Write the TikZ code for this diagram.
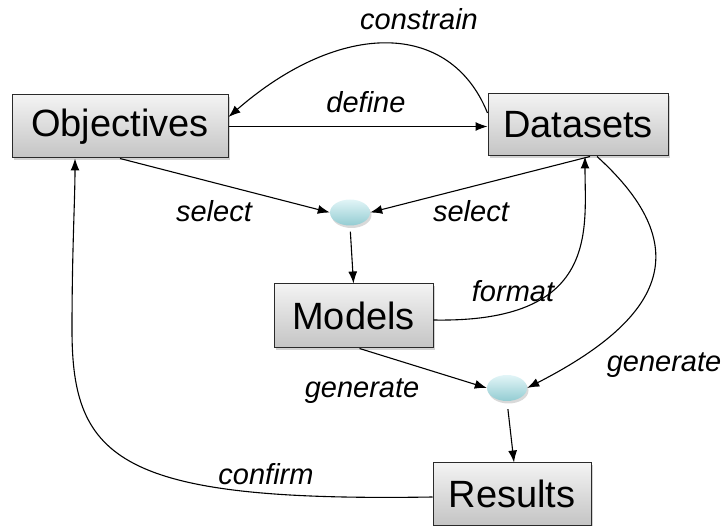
\documentclass[tikz,border=0pt]{standalone}
\usepackage{fontspec}
\setmainfont{Liberation Sans}
\usetikzlibrary{arrows.meta,shadows,shapes.geometric}
\definecolor{boxtop}{HTML}{F3F3F3}
\definecolor{boxbot}{HTML}{C4C4C4}
\definecolor{frame}{HTML}{2A2A2A}
\definecolor{balltop}{HTML}{E2F5F7}
\definecolor{ballbot}{HTML}{93CCD2}
\begin{document}
\begin{tikzpicture}[x=1pt,y=-1pt,
  box/.style={draw=frame, line width=1pt, top color=boxtop, bottom color=boxbot,
    drop shadow={opacity=0.35, shadow xshift=2pt, shadow yshift=-2.5pt},
    font=\fontsize{38}{40}\selectfont, inner sep=0pt},
  joint/.style={ellipse, draw=none, minimum width=40pt, minimum height=26pt,
    top color=balltop, bottom color=ballbot,
    drop shadow={opacity=0.3, shadow xshift=1.5pt, shadow yshift=-2.5pt}},
  lbl/.style={font=\fontsize{29}{30}\selectfont\itshape, anchor=base, inner sep=0pt},
  arr/.style={draw=black, line width=1.1pt, -{Latex[length=12pt,width=9pt]}}]
\useasboundingbox (0,0) rectangle (726,526);

% process boxes
\node[box, minimum width=216pt, minimum height=63pt] (obj) at (120,126.5) {Objectives};
\node[box, minimum width=180pt, minimum height=62pt] (ds) at (578,125) {Datasets};
\node[box, minimum width=159pt, minimum height=64pt] (mod) at (353.5,316) {Models};
\node[box, minimum width=158pt, minimum height=62pt] (res) at (512,494) {Results};

% junction points
\node[joint] (e1) at (350,212.5) {};
\node[joint] (e2) at (507,388) {};

% connectors
\draw[arr] (obj.east) -- (ds.west |- obj.east);
\draw[arr] ([yshift=12pt]ds.west) .. controls (450,20) and (340,20) .. (obj.5);
\draw[arr] (obj.south) -- (e1.west);
\draw[arr] ([xshift=12pt]ds.south) -- (e1.east);
\draw[arr, shorten <=6pt] (e1.south) -- (mod.north);
\draw[arr] ([yshift=-4pt]mod.east) .. controls (600,323) and (585,230) .. ([xshift=7pt]ds.south);
\draw[arr] ([xshift=6pt]mod.south) -- (e2.west);
\draw[arr] ([xshift=19pt]ds.south) .. controls (700,250) and (660,320) .. (e2.east);
\draw[arr, shorten <=8pt] (e2.south) -- ([xshift=2pt]res.north);
\draw[arr] ([yshift=-3pt]res.west) .. controls (120,502) and (72,460) .. (72,330)
  .. controls (72,250) and (75,200) .. ([xshift=-45pt]obj.south);

% connector labels
\node[lbl] (lconstrain) at (419,30) {constrain};
\node[lbl] (ldefine) at (366,113) {define};
\node[lbl] (lselA) at (214,222) {select};
\node[lbl] (lselB) at (471,222) {select};
\node[lbl] (lformat) at (513,302) {format};
\node[lbl] (lgenA) at (362,398) {generate};
\node[lbl] (lgenB) at (664,372) {generate};
\node[lbl] (lconfirm) at (266,485) {confirm};
\end{tikzpicture}
\end{document}
